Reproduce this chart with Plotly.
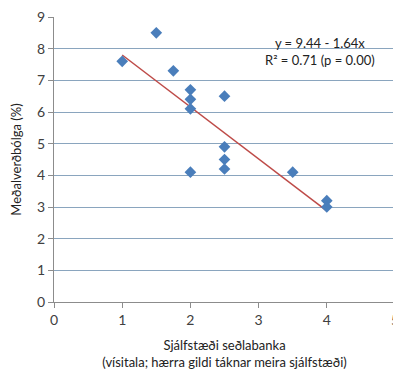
import plotly.graph_objects as go

independence = [1, 1.5, 1.75, 2, 2, 2, 2, 2.5, 2.5, 2.5, 2.5, 3.5, 4, 4]
inflation = [7.6, 8.5, 7.3, 6.7, 6.4, 6.1, 4.1, 6.5, 4.9, 4.5, 4.2, 4.1, 3.2, 3.0]
intercept = 9.44
slope = -1.64
trend_x = [min(independence), max(independence)]
trend_y = [intercept + slope * v for v in trend_x]

font = "Lato, Carlito, 'Open Sans', sans-serif"

fig = go.Figure()
fig.add_trace(go.Scatter(x=trend_x, y=trend_y, mode="lines",
                         line=dict(color="#BE4B48", width=1.5), showlegend=False))
fig.add_trace(go.Scatter(x=independence, y=inflation, mode="markers",
                         marker=dict(symbol="diamond", size=9, color="#4A7EBB"),
                         showlegend=False))

fig.add_annotation(x=3.9, y=7.92, xref="x", yref="y",
                   text="y = 9.44 - 1.64x<br>R² = 0.71 (p = 0.00)",
                   showarrow=False, align="center",
                   font=dict(family=font, size=13, color="#222"))

fig.update_layout(
    width=393, height=362,
    margin=dict(l=46, r=6, t=9, b=68),
    paper_bgcolor="white", plot_bgcolor="white",
    font=dict(family=font, size=13, color="#333"),
    xaxis=dict(range=[0, 5], tickvals=[0, 1, 2, 3, 4, 5], showgrid=False,
               automargin=False, ticklabeloverflow="allow",
               showline=True, linecolor="#8C8C8C", linewidth=1,
               ticks="outside", ticklen=5, tickcolor="#8C8C8C",
               tickfont=dict(size=14, color="#404040"),
               zeroline=False,
               title=dict(text="Sjálfstæði seðlabanka<br>(vísitala; hærra gildi táknar meira sjálfstæði)",
                          font=dict(size=13, color="#222"), standoff=14)),
    yaxis=dict(range=[0, 9], tickvals=list(range(10)), showgrid=True,
               automargin=False, ticklabeloverflow="allow",
               gridcolor="#8AA5BE", gridwidth=1,
               showline=True, linecolor="#8C8C8C", linewidth=1,
               ticks="outside", ticklen=5, tickcolor="#8C8C8C",
               tickfont=dict(size=14, color="#404040"),
               zeroline=False,
               title=dict(text="Meðalverðbólga (%)", font=dict(size=13, color="#222"),
                          standoff=12)),
)

fig.write_html("out.html")
